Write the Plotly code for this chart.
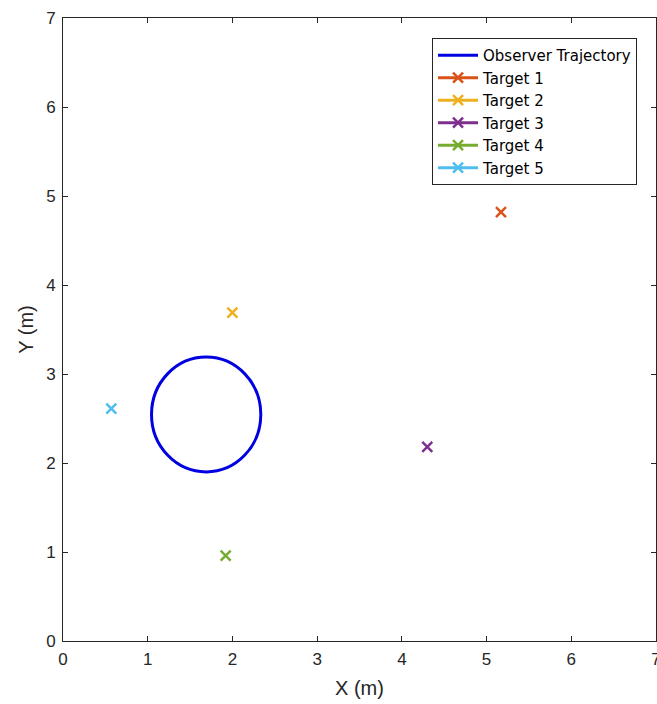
import plotly.graph_objects as go

# Data
target_names = ["Target 1", "Target 2", "Target 3", "Target 4", "Target 5"]
target_x = [5.17, 2.00, 4.30, 1.92, 0.57]
target_y = [4.82, 3.69, 2.18, 0.96, 2.61]
target_colors = ["#D95319", "#EDB120", "#7E2F8E", "#77AC30", "#4DBEEE"]

observer_center_x = 1.69
observer_center_y = 2.545
observer_radius = 0.645
observer_color = "#0000E0"

x_ticks = [0, 1, 2, 3, 4, 5, 6, 7]
y_ticks = [0, 1, 2, 3, 4, 5, 6, 7]

FONT = "Liberation Sans, Arial, Helvetica, sans-serif"
LEGEND_FONT = "DejaVu Sans, Liberation Sans, Arial, sans-serif"
TXT = "#262626"

fig = go.Figure()

# Observer trajectory legend entry (circle drawn as a data-coordinate shape)
fig.add_trace(go.Scatter(
    x=[None], y=[None], mode="lines", name="Observer Trajectory",
    line=dict(color=observer_color, width=3),
))

for name, x, y, c in zip(target_names, target_x, target_y, target_colors):
    fig.add_trace(go.Scatter(
        x=[x], y=[y], mode="lines+markers", name=name,
        line=dict(color=c, width=3),
        marker=dict(symbol="x-thin", size=10, color=c,
                    line=dict(color=c, width=2.5)),
    ))

fig.add_shape(
    type="circle", xref="x", yref="y",
    x0=observer_center_x - observer_radius, x1=observer_center_x + observer_radius,
    y0=observer_center_y - observer_radius, y1=observer_center_y + observer_radius,
    line=dict(color=observer_color, width=3),
)

axis_common = dict(
    range=[0, 7], showgrid=False, zeroline=False,
    showline=True, linecolor=TXT, linewidth=1, mirror="ticks",
    ticks="inside", ticklen=5, tickcolor=TXT, tickwidth=1,
    tickfont=dict(family=FONT, size=17, color=TXT),
    ticklabeloverflow="allow", automargin=False,
)

fig.update_layout(
    width=657, height=704,
    margin=dict(l=63, r=1, t=18, b=63, autoexpand=False),
    paper_bgcolor="white", plot_bgcolor="white",
    font=dict(family=FONT, color=TXT),
    xaxis=dict(**axis_common, tickvals=x_ticks, ticklabelstandoff=3,
               title=dict(text="X (m)", font=dict(family=FONT, size=20, color=TXT), standoff=12)),
    yaxis=dict(**axis_common, tickvals=y_ticks, ticklabelstandoff=3,
               title=dict(text="Y (m)", font=dict(family=FONT, size=20, color=TXT), standoff=7)),
    legend=dict(
        x=0.968, y=0.968, xanchor="right", yanchor="top",
        bgcolor="white", bordercolor=TXT, borderwidth=1,
        font=dict(family=LEGEND_FONT, size=15, color="black"),
        tracegroupgap=0, itemwidth=40,
    ),
    showlegend=True,
)

fig.write_html("out.html")
